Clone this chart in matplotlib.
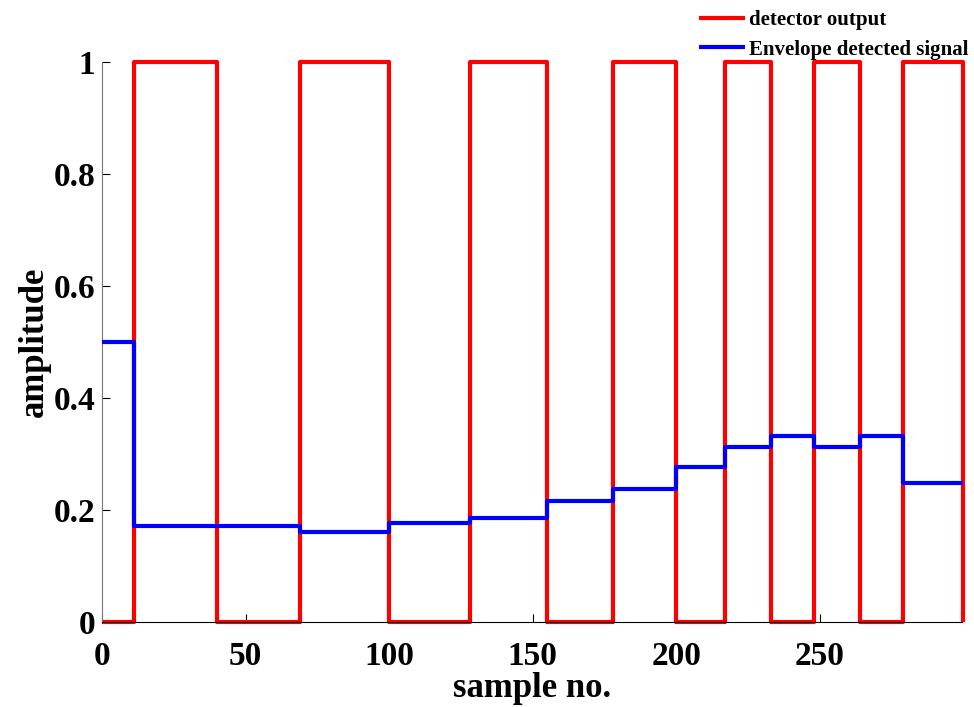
import numpy as np
import matplotlib
matplotlib.use('Agg')
import matplotlib.pyplot as plt

# granice intervalov (sample no.) in nivoji signalov
edges = [0, 11, 40, 69, 100, 128, 155, 178, 200, 217, 233, 248, 264, 279, 300]
detector = [0, 1, 0, 1, 0, 1, 0, 1, 0, 1, 0, 1, 0, 1]
envelope = [0.5, 0.172, 0.172, 0.160, 0.177, 0.185, 0.216, 0.238, 0.277,
            0.313, 0.332, 0.313, 0.332, 0.249]

x_ticks = [0, 50, 100, 150, 200, 250]
y_ticks = [0, 0.2, 0.4, 0.6, 0.8, 1]
y_ticklabels = ['0', '0.2', '0.4', '0.6', '0.8', '1']

plt.rcParams['font.family'] = 'Liberation Serif'
plt.rcParams['font.weight'] = 'bold'

fig = plt.figure(figsize=(9.74, 7.07), dpi=100)
ax = fig.add_axes([0.1047, 0.1202, 0.883, 0.792])

# stopnicasta grafa
l1, = ax.step(edges, detector + [0], where='post', color='#ff0000', lw=3,
              label='detector output', clip_on=False, solid_capstyle='butt')
l2, = ax.step(edges, envelope + [envelope[-1]], where='post', color='#0000ff', lw=3,
              label='Envelope detected signal', clip_on=False, zorder=3,
              solid_capstyle='butt')

ax.set_xlim(0, 299.5)
ax.set_ylim(0, 1)
ax.set_xticks(x_ticks)
ax.set_yticks(y_ticks)
ax.set_yticklabels(y_ticklabels)
ax.tick_params(direction='in', labelsize=24, length=6, width=0.8)
ax.tick_params(axis='x', pad=14)
ax.tick_params(axis='y', pad=5)
for lab in ax.get_xticklabels() + ax.get_yticklabels():
    lab.set_fontweight('bold')

ax.spines['top'].set_visible(False)
ax.spines['right'].set_visible(False)
ax.spines['left'].set_color('#777777')

ax.set_xlabel('sample no.', fontsize=25, fontweight='bold', labelpad=0)
ax.set_ylabel('amplitude', fontsize=25, fontweight='bold', labelpad=2)

fig.legend(handles=[l1, l2], loc='upper right', bbox_to_anchor=(1.005, 1.0),
           frameon=False, handlelength=2.2, handletextpad=0.2,
           labelspacing=0.45, borderaxespad=0.1, prop={'weight': 'bold', 'size': 15})

fig.savefig('out.png', dpi=100)
